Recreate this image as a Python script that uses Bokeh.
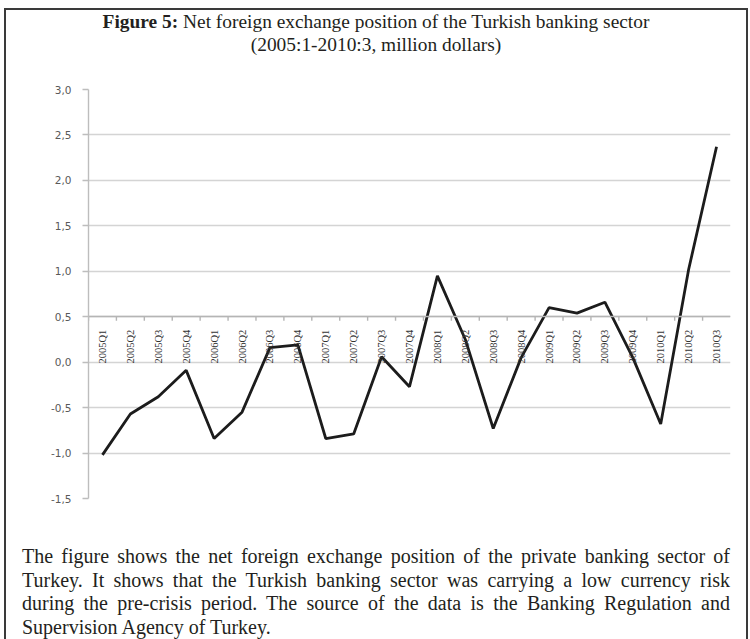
from math import pi
from bokeh.plotting import figure
from bokeh.models import (FactorRange, Range1d, FixedTicker, ColumnDataSource, Div)
from bokeh.layouts import column
from bokeh.transform import dodge
from bokeh.embed import file_html
from bokeh.resources import INLINE

# ---------------- data ----------------
quarters = ["2005Q1", "2005Q2", "2005Q3", "2005Q4",
            "2006Q1", "2006Q2", "2006Q3", "2006Q4",
            "2007Q1", "2007Q2", "2007Q3", "2007Q4",
            "2008Q1", "2008Q2", "2008Q3", "2008Q4",
            "2009Q1", "2009Q2", "2009Q3", "2009Q4",
            "2010Q1", "2010Q2", "2010Q3"]
net_fx_position = [-1.02, -0.57, -0.38, -0.09,
                   -0.84, -0.55, 0.16, 0.19,
                   -0.84, -0.79, 0.06, -0.27,
                   0.95, 0.25, -0.73, 0.05,
                   0.60, 0.54, 0.66, 0.05,
                   -0.68, 1.02, 2.37]
y_ticks = [-1.5, -1.0, -0.5, 0.0, 0.5, 1.0, 1.5, 2.0, 2.5, 3.0]
y_tick_labels = ["-1,5", "-1,0", "-0,5", "0,0", "0,5", "1,0", "1,5", "2,0", "2,5", "3,0"]
title_bold = "Figure 5:"
title_line1 = "Net foreign exchange position of the Turkish banking sector"
title_line2 = "(2005:1-2010:3, million dollars)"
caption_lines = [
    "The figure shows the net foreign exchange position of the private banking sector of",
    "Turkey. It shows that the Turkish banking sector was carrying a low currency risk",
    "during the pre-crisis period. The source of the data is the Banking Regulation and",
    "Supervision Agency of Turkey.",
]

W = 740
SERIF = "'Liberation Serif', 'Times New Roman', serif"
INK = "#231f20"

# ---------------- title ----------------
title_html = (
    f'<div style="box-sizing:border-box;width:{W}px;text-align:center;font-family:{SERIF};'
    f'font-size:19.4px;line-height:23px;color:{INK};padding-top:0px;">'
    f'<b>{title_bold}</b> {title_line1}<br>{title_line2}</div>'
)
title_div = Div(text=title_html, width=W, height=70, margin=0)

# ---------------- chart ----------------
source = ColumnDataSource(dict(q=quarters, v=net_fx_position))

p = figure(width=W, height=464, output_backend="svg", toolbar_location=None,
           x_range=FactorRange(*quarters, range_padding=0),
           y_range=Range1d(-1.5, 3.0),
           min_border_left=82, min_border_right=16,
           min_border_top=9, min_border_bottom=46, margin=0)
p.outline_line_color = None
p.background_fill_color = "white"
p.border_fill_color = "white"

p.xgrid.grid_line_color = None
p.ygrid.grid_line_color = "#d4d4d4"
p.ygrid.grid_line_width = 1.4
p.yaxis.ticker = FixedTicker(ticks=y_ticks)
p.yaxis.major_label_overrides = {t: l for t, l in zip(y_ticks, y_tick_labels)}
p.yaxis.axis_line_color = "#bdbdbd"
p.yaxis.axis_line_width = 1.4
p.yaxis.major_tick_line_color = "#bdbdbd"
p.yaxis.major_tick_line_width = 1.4
p.yaxis.major_tick_out = 6
p.yaxis.major_tick_in = 0
p.yaxis.minor_tick_line_color = None
p.yaxis.major_label_text_font = "DejaVu Sans"
p.yaxis.major_label_text_font_size = "10.5px"
p.yaxis.major_label_text_color = "#595959"
p.yaxis.major_label_standoff = 11

xa = p.xaxis[0]
xa.fixed_location = 0.5
xa.major_label_orientation = pi / 2
xa.major_tick_line_color = None
xa.major_tick_out = 0
xa.major_tick_in = 0
xa.axis_line_color = "#b5b5b5"
xa.axis_line_width = 1.4
xa.major_label_text_font = "Liberation Serif"
xa.major_label_text_font_size = "10.5px"
xa.major_label_text_color = "#333333"
xa.major_label_standoff = 13

# tick marks between categories on the category axis
p.segment(x0=dodge("q", -0.5, range=p.x_range), y0=0.5,
          x1=dodge("q", -0.5, range=p.x_range), y1=0.455,
          source=source, line_color="#b5b5b5", line_width=1.4)

p.line(x="q", y="v", source=source, line_color="#1c1c1c", line_width=2.8)

# ---------------- caption ----------------
rows = []
for i, line in enumerate(caption_lines):
    last = i == len(caption_lines) - 1
    just = "left" if last else "justify"
    rows.append(f'<div style="text-align:{just};text-align-last:{just};white-space:nowrap;">{line}</div>')
caption_html = (
    f'<div style="box-sizing:border-box;width:{W}px;padding:1px 16px 0 16px;font-family:{SERIF};'
    f'font-size:20px;line-height:23.7px;color:{INK};">' + "".join(rows) + '</div>'
)
caption_div = Div(text=caption_html, width=W, height=95, margin=0)

layout = column(title_div, p, caption_div, spacing=0,
                styles={"margin-left": "4px", "margin-top": "8px",
                        "border-left": "2px solid #3a3a3a",
                        "border-top": "2px solid #3a3a3a",
                        "border-right": "2px solid #3a3a3a"})

open("out.html", "w").write(file_html(layout, INLINE))
